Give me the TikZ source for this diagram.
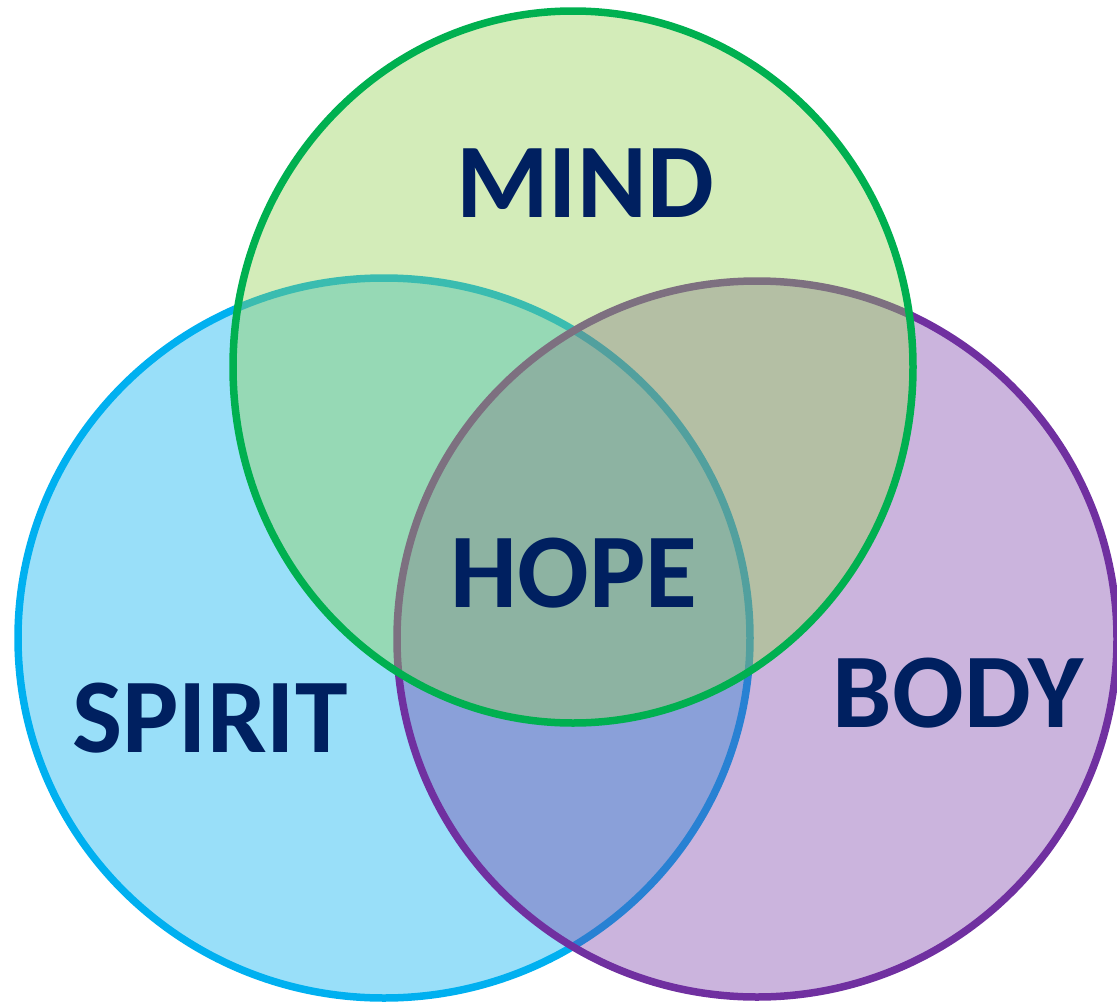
\documentclass[tikz,border=0pt]{standalone}
\usepackage{fontspec}
\setmainfont{Carlito}
\definecolor{spiritc}{HTML}{00B0F0}
\definecolor{bodyc}{HTML}{7030A0}
\definecolor{mindfill}{HTML}{92D050}
\definecolor{mindline}{HTML}{00B050}
\definecolor{textc}{HTML}{002060}
\begin{document}
\begin{tikzpicture}[x=1pt,y=-1pt,
  ring/.style={line width=7.5pt, fill opacity=0.4},
  lbl/.style={text=textc, font=\fontsize{106}{110}\selectfont\bfseries, inner sep=0pt, anchor=base}]
\useasboundingbox (0,0) rectangle (1117,1004);
\begin{scope}
\clip (0,0) rectangle (1117,1004);
\draw[ring, draw=spiritc, fill=spiritc] (384,638) ellipse [x radius=366, y radius=360];
\draw[ring, draw=bodyc, fill=bodyc, fill opacity=0.36] (757,639) ellipse [x radius=360, y radius=358];
\draw[ring, draw=mindline, fill=mindfill] (573,367) ellipse [x radius=340, y radius=356];
\end{scope}
\node[lbl] (mind) at (585,217) {MIND};
\node[lbl] (hope) at (574,607) {HOPE};
\node[lbl] (spirit) at (210,752) {SPIRIT};
\node[lbl] (body) at (958,727) {BODY};
\end{tikzpicture}
\end{document}
